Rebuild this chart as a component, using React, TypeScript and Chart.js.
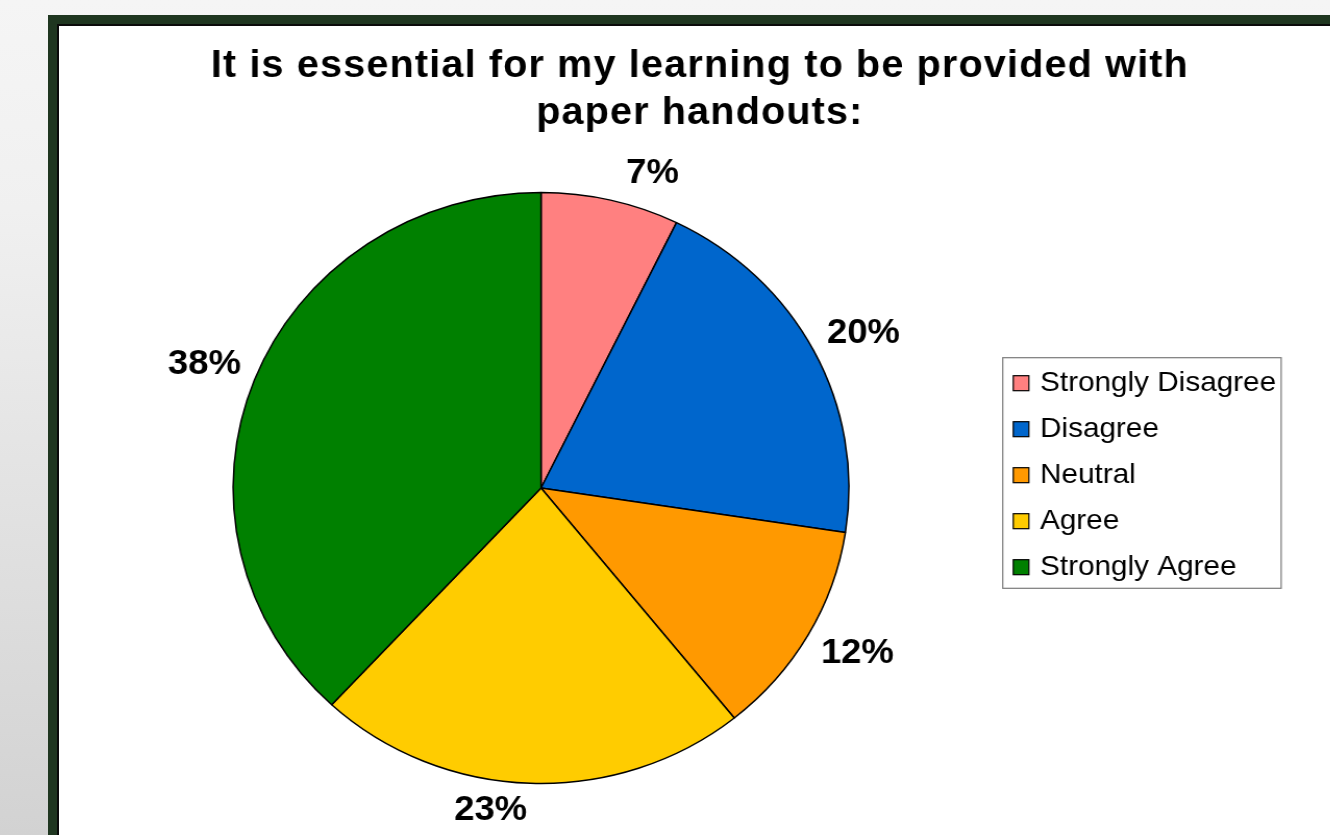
import React, { useEffect, useRef } from "react";
import { Chart, registerables } from "chart.js";

Chart.register(...registerables);

const TITLE_LINES = ["It is essential for my learning to be provided with", "paper handouts:"];
const CATEGORIES = ["Strongly Disagree", "Disagree", "Neutral", "Agree", "Strongly Agree"];
const SHARES = [7.25, 20.15, 11.8, 22.7, 38.1];
const COLORS = ["#FF8080", "#0066CC", "#FF9900", "#FFCC00", "#008000"];

const FONT = '"Liberation Sans", Arial, Helvetica, sans-serif';

const titlePlugin = {
  id: "customTitle",
  afterDraw(chart: any) {
    const ctx = chart.ctx;
    ctx.save();
    ctx.fillStyle = "#000";
    ctx.font = `bold 38px ${FONT}`;
    ctx.textAlign = "center";
    ctx.textBaseline = "alphabetic";
    (ctx as any).letterSpacing = "1.1px";
    const cx = 615;
    const baselines = [50.7, 97.5];
    TITLE_LINES.forEach((line, i) => ctx.fillText(line, cx, baselines[i]));
    (ctx as any).letterSpacing = "0px";
    ctx.restore();
  },
};

const percentLabelsPlugin = {
  id: "percentLabels",
  afterDatasetsDraw(chart: any) {
    const ctx = chart.ctx;
    const meta = chart.getDatasetMeta(0);
    const values: number[] = chart.data.datasets[0].data;
    const total = values.reduce((a, b) => a + b, 0);
    const size = 35;
    ctx.save();
    ctx.fillStyle = "#000";
    ctx.font = `bold ${size}px ${FONT}`;
    ctx.textAlign = "center";
    ctx.textBaseline = "middle";
    meta.data.forEach((arc: any, i: number) => {
      const p = arc.getProps(["x", "y", "startAngle", "endAngle", "outerRadius"], true);
      const mid = (p.startAngle + p.endAngle) / 2;
      const text = Math.round((values[i] / total) * 100) + "%";
      const c = Math.cos(mid);
      const s = Math.sin(mid);
      const x = p.x + c * (p.outerRadius + 11) + size * 1.08 * Math.sign(c);
      const y = p.y + s * (p.outerRadius + 18) + size * 0.26 * Math.sign(s);
      ctx.fillText(text, x, y);
    });
    ctx.restore();
  },
};

const boxedLegendPlugin = {
  id: "boxedLegend",
  afterDraw(chart: any) {
    const ctx = chart.ctx;
    const labels: string[] = chart.data.labels;
    const colors: string[] = chart.data.datasets[0].backgroundColor;
    const left = 905.7;
    const top = 331.7;
    const width = 267.2;
    const height = 230.6;
    ctx.save();
    ctx.strokeStyle = "#7a7a7a";
    ctx.lineWidth = 1.2;
    ctx.strokeRect(left, top, width, height);
    ctx.font = `28.5px ${FONT}`;
    ctx.textAlign = "left";
    ctx.textBaseline = "alphabetic";
    labels.forEach((label, i) => {
      const rowTop = top + 18 + i * 46;
      ctx.fillStyle = colors[i];
      ctx.fillRect(left + 10.1, rowTop, 15, 15);
      ctx.strokeStyle = "#000";
      ctx.lineWidth = 1.2;
      ctx.strokeRect(left + 10.1, rowTop, 15, 15);
      ctx.fillStyle = "#000";
      ctx.fillText(label, left + 35.8, rowTop + 15);
    });
    ctx.restore();
  },
};

export default function App() {
  const canvasRef = useRef<HTMLCanvasElement>(null);

  useEffect(() => {
    if (!canvasRef.current) return;
    const chart = new Chart(canvasRef.current, {
      type: "pie",
      data: {
        labels: CATEGORIES,
        datasets: [
          {
            data: SHARES,
            backgroundColor: COLORS,
            borderColor: "#000000",
            borderWidth: 1.5,
            hoverBorderWidth: 1.5,
            hoverOffset: 0,
          },
        ],
      },
      options: {
        animation: false,
        responsive: true,
        maintainAspectRatio: false,
        events: [],
        layout: { padding: { left: 20, right: 314.8, top: 165.75, bottom: 50.75 } },
        plugins: {
          legend: { display: false },
          title: { display: false },
          tooltip: { enabled: false },
        },
      },
      plugins: [titlePlugin, percentLabelsPlugin, boxedLegendPlugin],
    });
    return () => chart.destroy();
  }, []);

  return (
    <div
      style={{
        position: "fixed",
        left: 0,
        top: 0,
        width: 1330,
        height: 835,
        overflow: "hidden",
        background: "linear-gradient(to bottom, #f5f5f5 0%, #f0f0f0 25%, #d2d2d2 100%)",
      }}
    >
      <div style={{ position: "absolute", left: 48, top: 15, width: 1400, height: 900, background: "#1f3620" }} />
      <div
        style={{
          position: "absolute",
          left: 57,
          top: 24,
          width: 1400,
          height: 900,
          background: "#ffffff",
          borderLeft: "2px solid #0a0a0a",
          borderTop: "2px solid #0a0a0a",
        }}
      />
      <div
        style={{
          position: "absolute",
          left: 59,
          top: 26,
          width: 1220,
          height: 809,
          transform: "scaleX(1.042)",
          transformOrigin: "0 0",
        }}
      >
        <canvas ref={canvasRef} />
      </div>
    </div>
  );
}
